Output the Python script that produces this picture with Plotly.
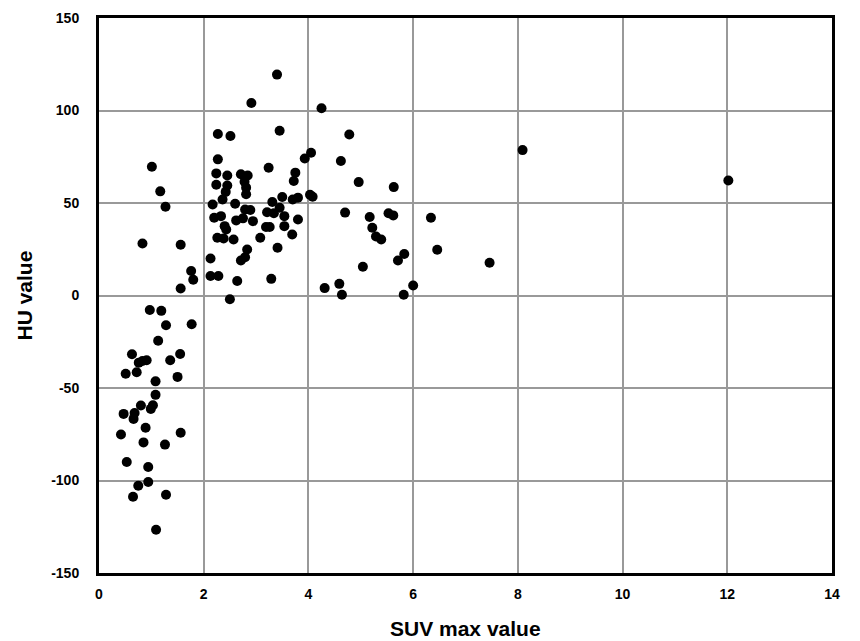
import plotly.graph_objects as go

suv = [1.01, 1.17, 1.27, 0.83, 1.56, 1.76, 1.80, 1.56, 0.97, 1.19, 1.28, 1.77, 1.13, 0.63, 1.55,
       0.76, 0.83, 0.91, 1.36, 0.51, 0.72, 1.50, 1.08, 1.08, 0.80, 1.03, 0.99, 0.47, 0.68, 0.66,
       0.89, 0.42, 1.56, 0.85, 1.26, 0.53, 0.94, 0.94, 0.75, 0.65, 1.28, 1.09,
       2.27, 2.51, 2.91, 3.40, 3.45, 4.25, 2.27, 2.24, 2.45, 2.71, 2.84, 2.24, 2.45, 2.42,
       2.78, 2.81, 2.81, 2.36, 2.17, 2.60, 3.24, 3.75, 3.72, 3.50, 3.70, 3.80, 4.03, 4.08,
       3.31, 3.21, 3.34, 3.45, 3.54, 3.80, 4.05, 3.93, 4.62, 4.78, 2.79, 2.89, 2.20, 2.33,
       2.40, 2.43, 2.62, 2.75, 2.94, 2.26, 2.38, 2.57, 3.08, 2.83, 2.79, 2.71, 2.13, 2.13,
       2.28, 2.64, 2.50, 3.19, 3.26, 3.54, 3.69, 3.41, 3.29,
       4.70, 4.96, 5.63, 5.17, 5.53, 5.62, 6.34, 5.22, 5.29, 5.39, 6.46, 5.83, 5.71, 5.04,
       7.46, 4.31, 4.59, 4.64, 6.00, 5.82, 8.09, 12.02]

hu = [69.6, 56.3, 48.0, 28.1, 27.4, 13.2, 8.5, 3.8, -7.8, -8.3, -16.1, -15.5, -24.5, -31.8, -31.6,
      -36.3, -35.4, -35.0, -35.0, -42.3, -41.5, -44.0, -46.4, -53.7, -59.5, -59.3, -61.3, -64.0, -63.5, -66.7,
      -71.5, -75.1, -74.2, -79.4, -80.6, -90.0, -92.7, -100.8, -102.8, -108.8, -107.7, -126.6,
      87.3, 86.2, 104.1, 119.4, 89.1, 101.2, 73.6, 66.0, 64.9, 65.5, 64.9, 59.9, 59.5, 56.0,
      61.5, 58.3, 54.7, 51.9, 49.2, 49.6, 69.1, 66.4, 61.9, 53.2, 51.9, 52.9, 54.5, 53.4,
      50.5, 45.0, 44.5, 47.4, 42.9, 41.1, 77.2, 74.1, 72.7, 87.0, 46.5, 46.2, 42.0, 42.9,
      37.5, 35.7, 40.6, 41.7, 40.2, 31.2, 30.8, 30.3, 31.2, 24.9, 20.7, 18.9, 20.0, 10.5,
      10.5, 7.8, -2.0, 37.0, 37.0, 37.5, 33.0, 25.8, 9.0,
      44.8, 61.3, 58.6, 42.4, 44.5, 43.3, 42.0, 36.6, 31.9, 30.3, 24.7, 22.4, 18.9, 15.5,
      17.7, 4.0, 6.3, 0.4, 5.4, 0.4, 78.6, 62.2]

x_ticks = [0, 2, 4, 6, 8, 10, 12, 14]
y_ticks = [-150, -100, -50, 0, 50, 100, 150]
x_title = "SUV max value"
y_title = "HU value"

fig = go.Figure()
fig.add_trace(go.Scatter(
    x=suv, y=hu, mode="markers",
    marker=dict(color="black", size=10, line=dict(width=0)),
    showlegend=False, hoverinfo="x+y",
))

fig.update_layout(
    width=860, height=641,
    margin=dict(l=99, r=28, t=18, b=68, autoexpand=False),
    paper_bgcolor="white", plot_bgcolor="white",
    font=dict(family="Liberation Sans, Arial, sans-serif", color="black"),
    xaxis=dict(
        range=[0, 14], tickvals=x_ticks, ticktext=[f"<b>{v}</b>" for v in x_ticks],
        showgrid=True, gridcolor="#999999", gridwidth=1.5,
        showline=True, linecolor="black", linewidth=3, mirror=True,
        zeroline=False, ticks="", ticklabelstandoff=6, automargin=False,
        tickfont=dict(size=14),
    ),
    yaxis=dict(
        range=[-150, 150], tickvals=y_ticks, ticktext=[f"<b>{v}</b>" for v in y_ticks],
        showgrid=True, gridcolor="#999999", gridwidth=1.5,
        showline=True, linecolor="black", linewidth=3, mirror=True,
        zeroline=False, ticks="", ticklabelstandoff=14, automargin=False,
        tickfont=dict(size=14),
    ),
    annotations=[
        dict(text=f"<b>{x_title}</b>", xref="paper", yref="paper", x=0.5, y=0,
             yshift=-55, showarrow=False, font=dict(size=21), xanchor="center", yanchor="middle"),
        dict(text=f"<b>{y_title}</b>", xref="paper", yref="paper", x=0, y=0.5,
             xshift=-75, showarrow=False, font=dict(size=21), textangle=-90,
             xanchor="center", yanchor="middle"),
    ],
)

fig.write_html("out.html", config={"displayModeBar": False},
               post_script="document.body.style.margin='0';")
